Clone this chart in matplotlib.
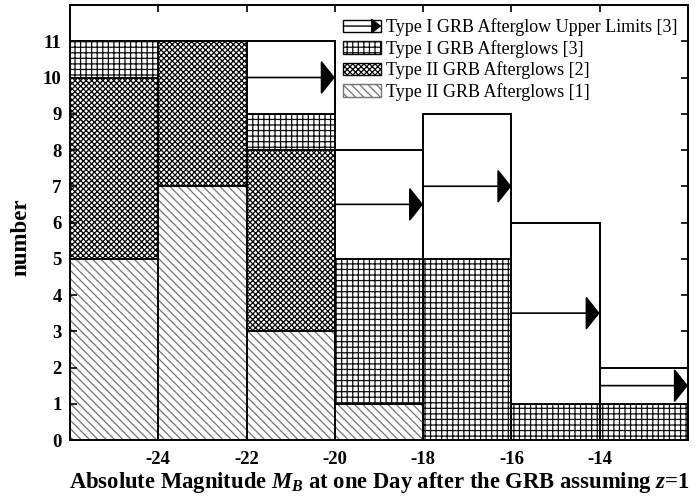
import matplotlib
matplotlib.use("Agg")
import matplotlib.pyplot as plt
from matplotlib.patches import Rectangle, FancyArrowPatch
from matplotlib.legend_handler import HandlerBase

# bin left edges (absolute magnitude), each bin is 2 mag wide
bin_left = [-26, -24, -22, -20, -18, -16, -14]
bin_width = 2

type2_ref1 = [5, 7, 3, 1, 0, 0, 0]      # Type II GRB Afterglows [1]
type2_ref2 = [5, 4, 5, 0, 0, 0, 0]      # Type II GRB Afterglows [2]
type1_ref3 = [1, 0, 1, 4, 5, 1, 1]      # Type I GRB Afterglows [3]
type1_upper = [0, 0, 2, 3, 4, 5, 1]     # Type I GRB Afterglow Upper Limits [3]

xticks = [-24, -22, -20, -18, -16, -14]
yticks = list(range(0, 12))

plt.rcParams["font.family"] = ["Liberation Serif", "DejaVu Serif"]
plt.rcParams["mathtext.fontset"] = "custom"
plt.rcParams["mathtext.rm"] = "Liberation Serif:bold"
plt.rcParams["mathtext.it"] = "Liberation Serif:italic:bold"
plt.rcParams["axes.unicode_minus"] = False
plt.rcParams["hatch.linewidth"] = 0.9

ARROW = "-|>,head_length=0.4,head_width=0.5"


class HandlerArrowBox(HandlerBase):
    def create_artists(self, legend, orig_handle, xdescent, ydescent,
                       width, height, fontsize, trans):
        rect = Rectangle((-xdescent, -ydescent), width, height, fc="white",
                         ec="black", lw=1.0, transform=trans)
        y = -ydescent + height / 2
        arr = FancyArrowPatch((-xdescent, y), (-xdescent + width, y),
                              arrowstyle="-|>,head_length=0.5,head_width=0.4",
                              mutation_scale=12, color="black", lw=1.0,
                              shrinkA=0, shrinkB=0, transform=trans)
        return [rect, arr]


fig = plt.figure(figsize=(6.95, 4.98), dpi=100)
ax = fig.add_axes([70 / 695, 58 / 498, 618 / 695, 435 / 498])

layers = [
    (type2_ref1, "\\\\\\\\", "0.45", "Type II GRB Afterglows [1]"),
    (type2_ref2, "xxxxxx", "0.0", "Type II GRB Afterglows [2]"),
    (type1_ref3, "+++", "0.05", "Type I GRB Afterglows [3]"),
    (type1_upper, "", "black", "Type I GRB Afterglow Upper Limits [3]"),
]

bottom = [0] * len(bin_left)
handles = {}
for values, hatch, hcolor, label in layers:
    # hatch fill (hatch colour follows edge colour)
    ax.bar(bin_left, values, width=bin_width, bottom=bottom, align="edge",
           color="white", edgecolor=hcolor, hatch=hatch, lw=0)
    # black outlines on top
    ax.bar(bin_left, values, width=bin_width, bottom=bottom, align="edge",
           fill=False, edgecolor="black", lw=1.4)
    handles[label] = Rectangle((0, 0), 1, 1, fc="white", ec=hcolor,
                               hatch=hatch, lw=1.0)
    if values is type1_upper:
        for x0, b, v in zip(bin_left, bottom, values):
            if v > 0:
                ax.annotate("", xy=(x0 + bin_width, b + v / 2), xytext=(x0, b + v / 2),
                            arrowprops=dict(arrowstyle=ARROW, mutation_scale=22,
                                            color="black", lw=1.2,
                                            shrinkA=0, shrinkB=0))
    bottom = [b + v for b, v in zip(bottom, values)]

ax.set_xlim(-26, -12)
ax.set_ylim(0, 12)
ax.set_xticks(xticks)
ax.set_yticks(yticks)
ax.tick_params(direction="in", top=True, right=True, length=5, width=1.2,
               labelsize=13.5)
ax.tick_params(axis="x", pad=8)
ax.tick_params(axis="y", pad=6)
for lab in ax.get_xticklabels() + ax.get_yticklabels():
    lab.set_fontweight("bold")
for sp in ax.spines.values():
    sp.set_linewidth(1.4)

ax.set_xlabel(r"Absolute Magnitude $M_B$ at one Day after the GRB assuming $z$=1",
              fontsize=16.3, fontweight="bold", labelpad=1)
ax.set_ylabel("number", fontsize=16.5, fontweight="bold")
ax.yaxis.set_label_coords(-0.063, 0.467)

order = ["Type I GRB Afterglow Upper Limits [3]", "Type I GRB Afterglows [3]",
         "Type II GRB Afterglows [2]", "Type II GRB Afterglows [1]"]
upper_handle = Rectangle((0, 0), 1, 1)
leg_handles = [upper_handle] + [handles[k] for k in order[1:]]
ax.legend(leg_handles, order, loc="upper right", bbox_to_anchor=(1.003, 0.998),
          frameon=False, fontsize=13,
          handlelength=2.1, handleheight=0.7, handletextpad=0.25,
          labelspacing=0.2, borderaxespad=0.3,
          handler_map={upper_handle: HandlerArrowBox()})

fig.savefig("out.png", dpi=100)
